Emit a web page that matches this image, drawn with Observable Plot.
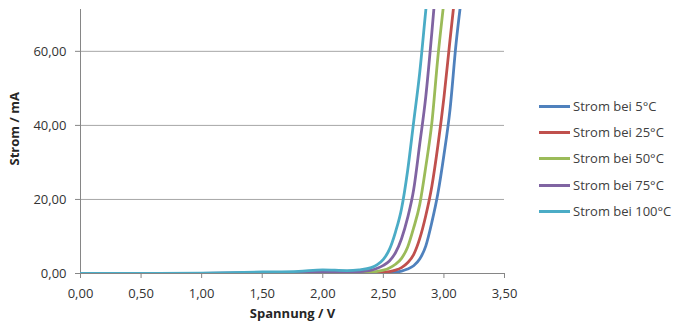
<!DOCTYPE html>
<html>
<head>
<meta charset="utf-8">
<script src="https://cdn.jsdelivr.net/npm/d3@7"></script>
<script src="https://cdn.jsdelivr.net/npm/@observablehq/plot@0.6"></script>
<style>
  html, body { margin: 0; padding: 0; background: #fff; }
  #wrap { position: relative; width: 675px; height: 326px; font-family: "Open Sans", sans-serif; }
  #wrap svg { display: block; }
  .item { position: absolute; left: 539px; height: 20px; white-space: nowrap; font-size: 13px; color: #404040; }
  .swatch { position: absolute; left: 0; top: 9px; width: 31px; height: 0; border-top: 3px solid; }
  .lbl { position: absolute; left: 34px; top: 0; line-height: 20px; }
</style>
</head>
<body>
<div id="wrap"></div>
<script>
// Spannung / V (shared grid of read-off points)
const voltage = [0, 0.5, 1.0, 1.5, 1.8, 2.0, 2.2, 2.3, 2.4, 2.45, 2.5, 2.55, 2.6, 2.65, 2.7, 2.75, 2.8, 2.85, 2.9, 2.95, 3.0, 3.05, 3.1, 3.15];

// Strom / mA for each temperature
const strom5   = [0, 0, 0, 0, 0, 0, 0, 0, 0, 0.05, 0.1, 0.2, 0.35, 0.65, 1.2, 2.1, 3.9, 7.4, 13.8, 21.6, 32.0, 44.2, 62.0, 76.0];
const strom25  = [0, 0, 0, 0, 0.05, 0.1, 0.1, 0.1, 0.15, 0.2, 0.3, 0.5, 0.9, 1.6, 2.9, 5.1, 9.4, 15.6, 23.5, 34.5, 47.5, 63.0, 78.0, null];
const strom50  = [0, 0, 0, 0.1, 0.15, 0.2, 0.25, 0.3, 0.4, 0.6, 0.9, 1.5, 2.5, 4.1, 7.1, 12.3, 18.6, 28.8, 40.6, 58.4, 73.5, 89.0, null, null];
const strom75  = [0, 0, 0.05, 0.2, 0.3, 0.4, 0.4, 0.5, 0.9, 1.4, 2.2, 3.4, 5.6, 9.4, 15.0, 22.6, 34.9, 47.7, 65.0, 84.0, null, null, null, null];
const strom100 = [0, 0, 0.1, 0.4, 0.6, 1.0, 0.8, 1.0, 1.6, 2.4, 3.8, 6.5, 11.2, 17.5, 27.7, 40.9, 54.2, 71.0, 87.0, null, null, null, null, null];

const seriesNames = ["Strom bei 5°C", "Strom bei 25°C", "Strom bei 50°C", "Strom bei 75°C", "Strom bei 100°C"];
const seriesColors = ["#4F81BD", "#C0504D", "#9BBB59", "#8064A2", "#4BACC6"];
const seriesValues = [strom5, strom25, strom50, strom75, strom100];

const xTicks = [0, 0.5, 1.0, 1.5, 2.0, 2.5, 3.0, 3.5];
const yTicks = [0, 20, 40, 60];
const yMax = 71.3;

const fmt = d => d.toFixed(2).replace(".", ",");

const table = seriesNames.flatMap((name, i) =>
  voltage.map((v, j) => ({V: v, I: seriesValues[i][j], s: name}))
);

const chart = Plot.plot({
  width: 675,
  height: 326,
  marginLeft: 80,
  marginRight: 171,
  marginTop: 9,
  marginBottom: 53,
  style: {fontFamily: "Open Sans, sans-serif", fontSize: "13px", background: "#fff", overflow: "visible"},
  x: {domain: [0, 3.5]},
  y: {domain: [0, yMax]},
  color: {domain: seriesNames, range: seriesColors},
  marks: [
    Plot.gridY(yTicks.filter(d => d > 0), {stroke: "#a6a6a6", strokeOpacity: 1}),
    Plot.ruleX([0], {stroke: "#868686"}),
    Plot.ruleY([0], {stroke: "#868686"}),
    Plot.axisX({ticks: xTicks, tickFormat: fmt, tickSize: 5, tickPadding: 10, label: null, stroke: "#868686", fill: "#333", fontSize: 13}),
    Plot.axisY({ticks: yTicks, tickFormat: fmt, tickSize: 5, tickPadding: 9, label: null, stroke: "#868686", fill: "#333", fontSize: 13}),
    Plot.line(table, {x: "V", y: "I", z: "s", stroke: "s", strokeWidth: 2.8, curve: "monotone-x", clip: true}),
    Plot.text(["Strom / mA"], {text: d => d, frameAnchor: "left", rotate: -90, dx: -66, dy: 24, fontWeight: "bold", fontSize: 13, fill: "#262626"}),
    Plot.text(["Spannung / V"], {text: d => d, frameAnchor: "bottom", dy: 44, fontWeight: "bold", fontSize: 13, fill: "#262626"})
  ]
});

const wrap = document.getElementById("wrap");
wrap.appendChild(chart);

seriesNames.forEach((name, i) => {
  const item = document.createElement("div");
  item.className = "item";
  item.style.top = (95.7 + i * 26.3) + "px";
  const sw = document.createElement("div");
  sw.className = "swatch";
  sw.style.borderTopColor = seriesColors[i];
  const lb = document.createElement("span");
  lb.className = "lbl";
  lb.textContent = name;
  item.appendChild(sw);
  item.appendChild(lb);
  wrap.appendChild(item);
});
</script>
</body>
</html>
